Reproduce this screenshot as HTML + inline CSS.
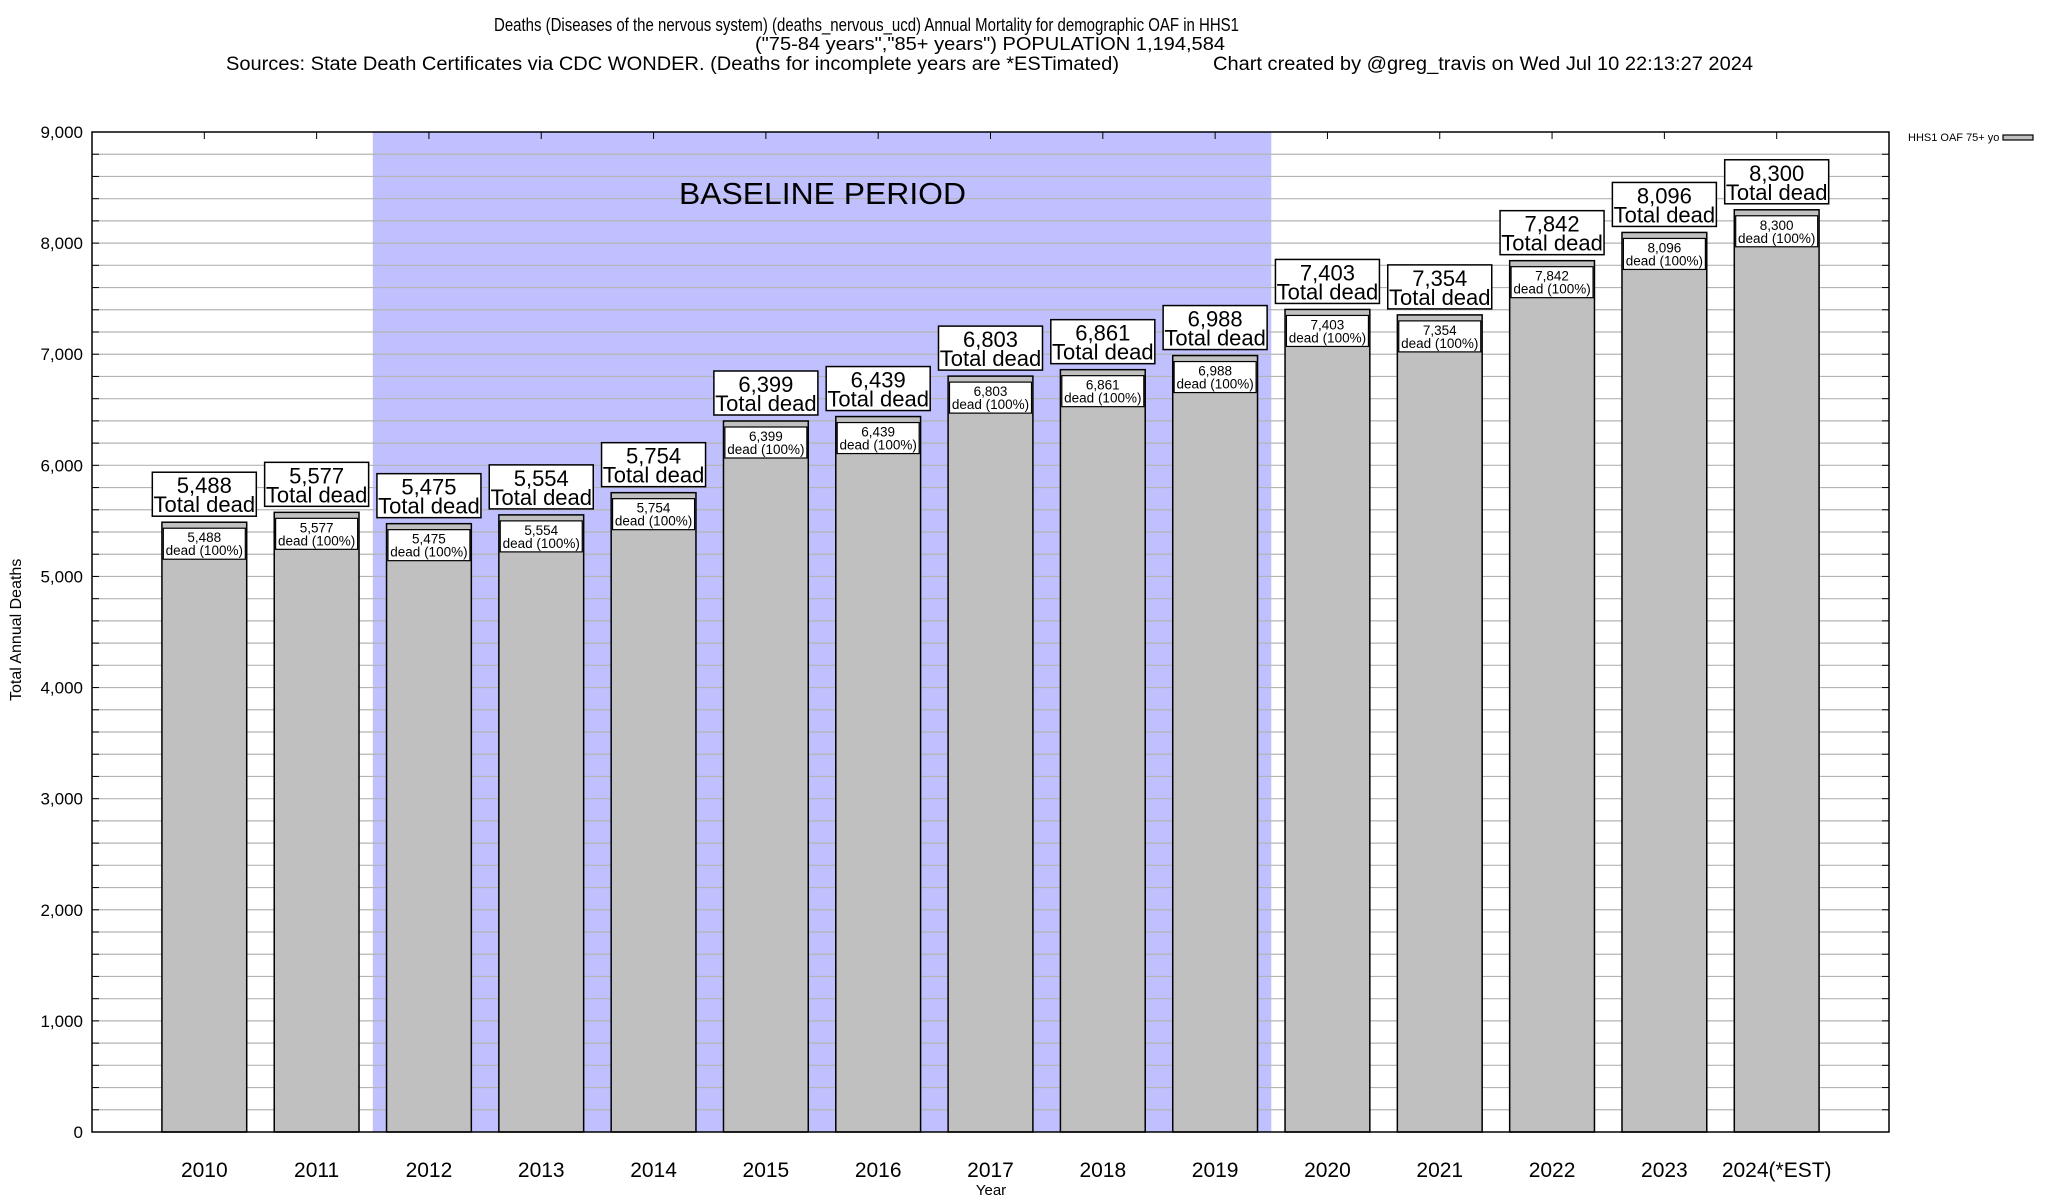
<!DOCTYPE html>
<html><head><meta charset="utf-8"><style>
html,body{margin:0;padding:0;background:#fff}
svg{display:block;font-family:"Liberation Sans",sans-serif}
</style></head><body>
<svg id="chart" width="2048" height="1200" viewBox="0 0 2048 1200" xmlns="http://www.w3.org/2000/svg">
<g font-size="19" fill="#000">
<text x="494" y="31" font-size="18" textLength="745" lengthAdjust="spacingAndGlyphs">Deaths (Diseases of the nervous system) (deaths_nervous_ucd) Annual Mortality for demographic OAF in HHS1</text>
<text x="755" y="50" font-size="18" textLength="470" lengthAdjust="spacingAndGlyphs">("75-84 years","85+ years") POPULATION 1,194,584</text>
<text x="226" y="70" textLength="893" lengthAdjust="spacingAndGlyphs">Sources: State Death Certificates via CDC WONDER. (Deaths for incomplete years are *ESTimated)</text>
<text x="1213" y="70" textLength="540" lengthAdjust="spacingAndGlyphs">Chart created by @greg_travis on Wed Jul 10 22:13:27 2024</text>
</g>
<g id="plot"></g>
<text transform="translate(21,701) rotate(-90)" font-size="16">Total Annual Deaths</text>
<text x="991" y="1195" font-size="15" text-anchor="middle">Year</text>
<g>
<text x="1908" y="141" font-size="11">HHS1 OAF 75+ yo</text>
<rect x="2003" y="135" width="30" height="5" fill="#c0c0c0" stroke="#000" stroke-width="1.2"/>
</g>
</svg>
<script>
const categories = ["2010","2011","2012","2013","2014","2015","2016","2017","2018","2019","2020","2021","2022","2023","2024(*EST)"];
const deaths = [5488,5577,5475,5554,5754,6399,6439,6803,6861,6988,7403,7354,7842,8096,8300];
const yTicks = [0,1000,2000,3000,4000,5000,6000,7000,8000,9000];
const yTickLabels = ["0","1,000","2,000","3,000","4,000","5,000","6,000","7,000","8,000","9,000"];
const baselineStart = 2, baselineEnd = 9;
const baselineLabel = "BASELINE PERIOD";

const NS = "http://www.w3.org/2000/svg";
const L = 92, R = 1889, T = 132, B = 1132, YMAX = 9000;
const band = (R - L) / (categories.length + 1);
const xC = i => L + (i + 1) * band;
const y = v => B - (v / YMAX) * (B - T);
const plot = document.getElementById('plot');
function mk(tag, attrs, parent) {
  const e = document.createElementNS(NS, tag);
  for (const k in attrs) e.setAttribute(k, attrs[k]);
  (parent || plot).appendChild(e);
  return e;
}
const fmt = v => v.toLocaleString('en-US');

const shade = mk('rect', {x: xC(baselineStart - 0.5), y: T, width: xC(baselineEnd + 0.5) - xC(baselineStart - 0.5), height: B - T, fill: '#c0c0ff'});



for (let v = 200; v < YMAX; v += 200) {
  const g = mk('line', {x1: L, x2: R, y1: y(v), y2: y(v), stroke: '#b4b4b4', 'stroke-width': 1.2});
  
  
  const t1 = mk('line', {x1: L, x2: L + 7, y1: y(v), y2: y(v), stroke: '#000', 'stroke-width': 1});
  
  
  const t2 = mk('line', {x1: R - 7, x2: R, y1: y(v), y2: y(v), stroke: '#000', 'stroke-width': 1});
  
  
}

const bl = mk('text', {x: 679, y: 204, 'font-size': 31, textLength: 287, lengthAdjust: 'spacingAndGlyphs'});


bl.textContent = baselineLabel;

yTicks.forEach((v, i) => {
  const t = mk('text', {x: 83, y: y(v) + 6, 'font-size': 17, 'text-anchor': 'end'});
  
  
  t.textContent = yTickLabels[i];
});

const bw = band * 0.755;
categories.forEach((c, i) => {
  const cx = xC(i), v = deaths[i], top = y(v);
  const bar = mk('rect', {x: cx - bw / 2, y: top, width: bw, height: B - top, fill: '#c0c0c0', stroke: '#000', 'stroke-width': 1.5});
  
  
  const ib = mk('rect', {x: cx - 41, y: top + 6, width: 82, height: 31, fill: '#fff', stroke: '#000', 'stroke-width': 1.2});
  
  
  const it1 = mk('text', {x: cx, y: top + 20, 'font-size': 13.5, 'text-anchor': 'middle'});
  
  
  it1.textContent = fmt(v);
  const it2 = mk('text', {x: cx, y: top + 33, 'font-size': 13.5, 'text-anchor': 'middle'});
  
  
  it2.textContent = 'dead (100%)';
  const ob = mk('rect', {x: cx - 52, y: top - 50, width: 104, height: 44, fill: '#fff', stroke: '#000', 'stroke-width': 1.5});
  
  
  const ot1 = mk('text', {x: cx, y: top - 29, 'font-size': 22, 'text-anchor': 'middle'});
  
  
  ot1.textContent = fmt(v);
  const ot2 = mk('text', {x: cx, y: top - 10, 'font-size': 22, 'text-anchor': 'middle'});
  
  
  ot2.textContent = 'Total dead';
  const xl = mk('text', {x: cx, y: 1177, 'font-size': 21, 'text-anchor': 'middle'});
  
  
  xl.textContent = c;
  const tt = mk('line', {x1: cx, x2: cx, y1: T, y2: T + 7, stroke: '#000', 'stroke-width': 1});
  
  
});

const fr = mk('rect', {x: L, y: T, width: R - L, height: B - T, fill: 'none', stroke: '#000', 'stroke-width': 1.5});


</script>
</body></html>
